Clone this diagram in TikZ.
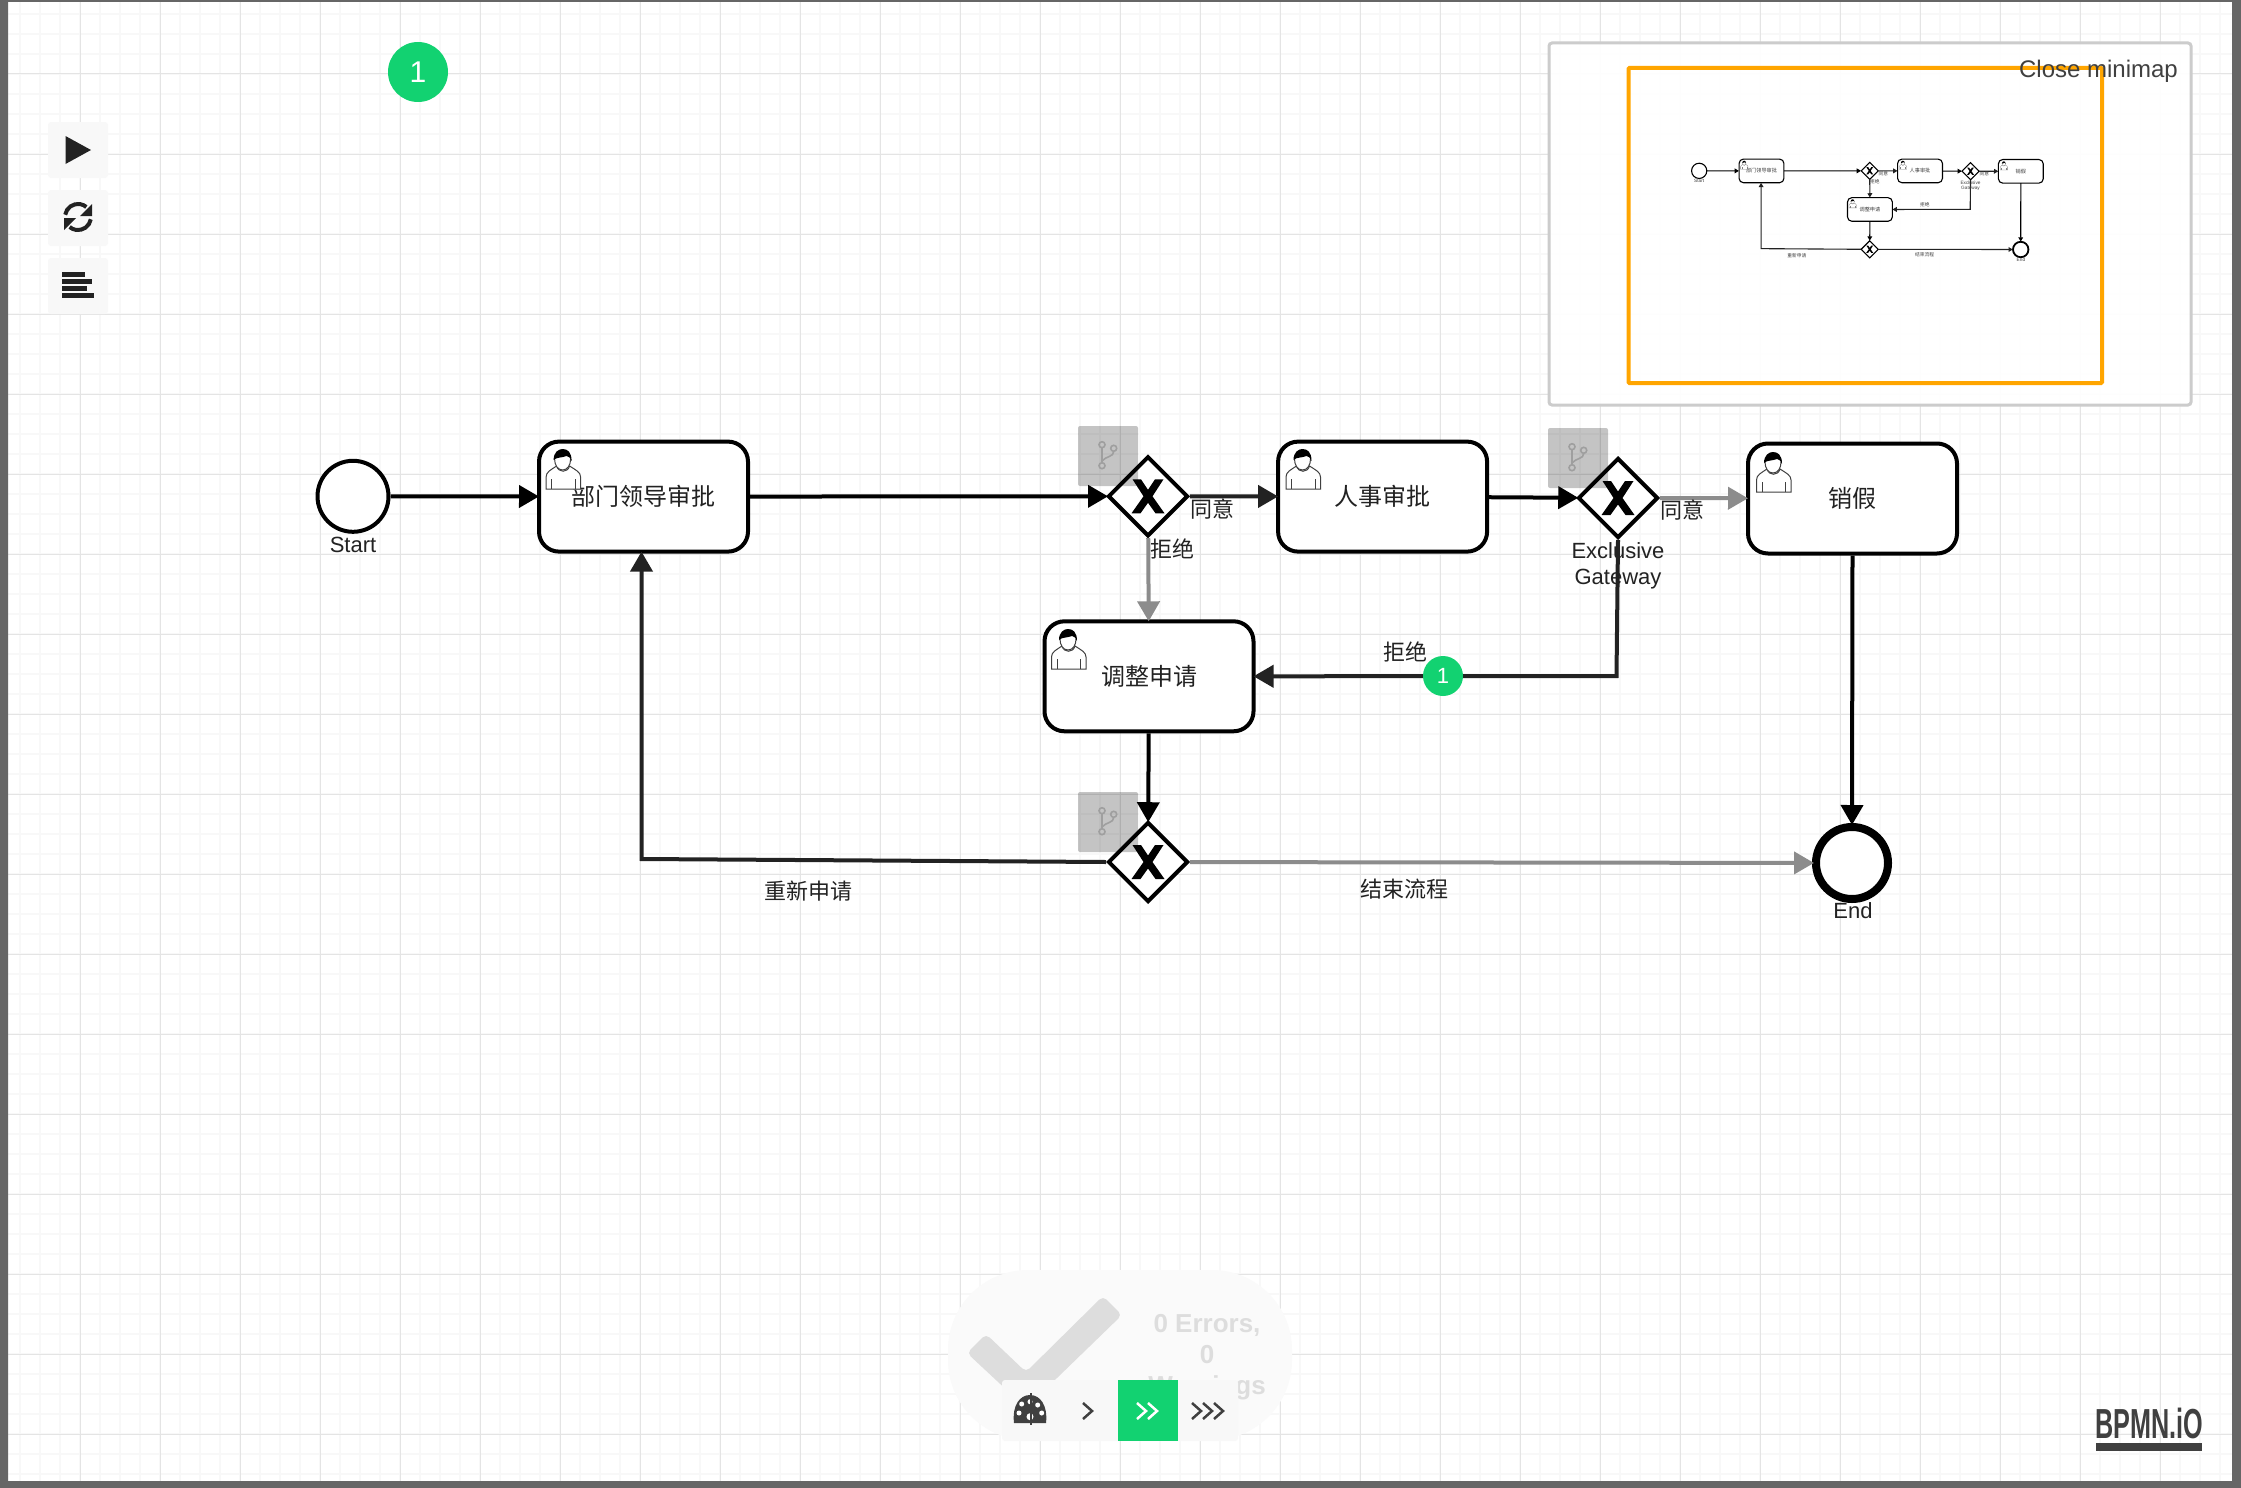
\documentclass[tikz,border=0pt]{standalone}
\usepackage{fontspec}
\setmainfont{Liberation Sans}
\newfontfamily\cjk{Noto Sans CJK SC}
\usetikzlibrary{arrows.meta,shapes.geometric}
\definecolor{tokengreen}{HTML}{12D271}
\definecolor{gridmajor}{HTML}{E4E4E4}
\definecolor{gridminor}{HTML}{F8F8F8}
\definecolor{framegray}{HTML}{666666}
\definecolor{panelgray}{HTML}{F8F8F8}
\definecolor{flowgray}{HTML}{8C8C8C}
\definecolor{flowdark}{HTML}{222222}
\definecolor{statusgray}{HTML}{DDDDDD}
\definecolor{icongray}{HTML}{404040}
\definecolor{viewbox}{HTML}{FFA500}
\newcommand{\fpx}[1]{\fontsize{#1}{#1}\selectfont}
\tikzset{
  x=1pt,y=-1pt,
  flowline/.style={line width=\flw,shorten >=\shr,-{Triangle[length=\arl,width=\arw]},draw=#1},
  flowline/.default=black,
  taskbox/.style={draw=black,fill=white,line width=\tlw,rounded corners=\rcr,minimum width=209pt,minimum height=110pt,inner sep=0pt,font=\cjk\fpx{24},text=\txtc,text height=20.5pt,text depth=3pt},
  gatewaybox/.style={diamond,draw=black,fill=white,line width=\tlw,minimum size=80pt,inner sep=0pt},
  startevent/.style={circle,draw=black,fill=white,line width=\tlw,minimum size=71pt,inner sep=0pt},
  endevent/.style={circle,draw=black,fill=white,line width=\elw,minimum size=72pt,inner sep=0pt},
  lbl/.style={font=\fpx{22},text=\txtc,inner sep=0pt,align=center},
  cjklbl/.style={font=\cjk\fpx{22},text=\txtc,inner sep=0pt},
  tokendot/.style={circle,fill=tokengreen,text=white,inner sep=0pt},
  toolbtn/.style={fill=panelgray,rounded corners=3pt},
  hintbox/.style={fill=black,fill opacity=.23,rounded corners=2pt},
  hinticon/.style={draw=gray!75,line width=1.6pt},
  chevron/.style={line width=2.5pt,draw=#1},
}
% user icon, top-left at (#1,#2)
\newcommand{\usericon}[2]{%
  \begin{scope}[shift={(#1,#2)}]
    \draw[draw=\iconc,line width=\ilw,fill=white] (.5,40) -- (.5,28) .. controls (.5,23) and (5,21) .. (11,17) .. controls (13,24) and (22,24) .. (24,17) .. controls (30,21) and (35,23) .. (35,28) -- (35,40) -- cycle;
    \draw[draw=\iconc,line width=\ilw] (6,30) -- (6,40) (29.5,30) -- (29.5,40);
    \draw[draw=\iconc,line width=\ilw,fill=white] (9,10) .. controls (9,16) and (12,21) .. (17,21) .. controls (22,21) and (25,16) .. (25,10);
    \fill[black] (8,11) .. controls (8,3) and (13,0) .. (17,0) .. controls (22,0) and (26,3) .. (26,12) .. controls (25,9) and (23,7) .. (21,7) .. controls (16,9) and (11,8) .. (8,11) -- cycle;
  \end{scope}}
% gateway cross centred at (#1,#2)
\newcommand{\xmark}[2]{%
  \begin{scope}[shift={(#1,#2)}]
    \fill[black] (-15.5,-17) -- (-7,-17) -- (0,-6.5) -- (7,-17) -- (15.5,-17) -- (4.5,0) -- (16.5,17) -- (7.5,17) -- (0,6.5) -- (-7.5,17) -- (-16.5,17) -- (-4.5,0) -- cycle;
  \end{scope}}
% hint box with branch icon, top-left at (#1,#2)
\newcommand{\hint}[2]{%
  \begin{scope}[shift={(#1,#2)}]
    \fill[hintbox] (0,0) rectangle (60,60);
    \draw[hinticon] (24,22) -- (24,36) (35.7,25.5) .. controls (35.7,31) and (28,30) .. (24,35);
    \draw[hinticon] (24,18.7) circle[radius=3pt] (35.7,22.3) circle[radius=3pt] (24,39.7) circle[radius=3pt];
  \end{scope}}
% the process; #1 = name prefix, #2 = colour of the pale flows
\newcommand{\process}[2]{%
  \node[startevent] (#1start) at (353,496.3) {};
  \node[taskbox] (#1task1) at (643.5,496.6) {部门领导审批};
  \node[gatewaybox] (#1gw1) at (1148,496.3) {};
  \node[taskbox] (#1task2) at (1382.6,496.6) {人事审批};
  \node[gatewaybox] (#1gw2) at (1618,498) {};
  \node[taskbox] (#1task3) at (1852.5,498.5) {销假};
  \node[taskbox] (#1task4) at (1149,676.3) {调整申请};
  \node[gatewaybox] (#1gw3) at (1148,862) {};
  \node[endevent] (#1end) at (1852,863) {};
  \coordinate (#1corner) at (641.5,859);
  \coordinate (#1cornerb) at (1616.5,676);
  \usericon{545.6}{449}
  \usericon{1285.5}{449}
  \usericon{1756}{452}
  \usericon{1051}{629}
  \xmark{1148}{496.3}
  \xmark{1618}{498}
  \xmark{1148}{862}
  \draw[flowline] (#1start) -- (#1task1);
  \draw[flowline] (#1task1) -- (#1gw1);
  \draw[flowline=flowdark] (#1gw1) -- (#1task2);
  \draw[flowline] (#1task2) -- (#1gw2);
  \draw[flowline=#2] (#1gw2) -- (#1task3);
  \draw[flowline=#2] (#1gw1) -- (#1task4);
  \draw[flowline=flowdark] (#1gw2.south) -- (#1cornerb) -- (#1task4.east);
  \draw[flowline] (#1task4) -- (#1gw3);
  \draw[flowline=flowdark] (#1gw3.west) -- (#1corner) -- (#1corner |- #1task1.south);
  \draw[flowline=#2] (#1gw3) -- (#1end);
  \draw[flowline] (#1task3.south) -- (#1end.north);
  \node[lbl] (#1lstart) at (353,545) {Start};
  \node[lbl] (#1lend) at (1853,911) {End};
  \node[lbl] (#1lgw) at (1618,565.5) {\baselineskip=26pt Exclusive\\[4pt]Gateway};
  \node[cjklbl] (#1l1) at (1212,509) {同意};
  \node[cjklbl] (#1l2) at (1172,549) {拒绝};
  \node[cjklbl] (#1l3) at (1682,510) {同意};
  \node[cjklbl] (#1l4) at (1405.5,652) {拒绝};
  \node[cjklbl] (#1l5) at (808,891) {重新申请};
  \node[cjklbl] (#1l6) at (1404,889) {结束流程};
}
\begin{document}
\begin{tikzpicture}
\useasboundingbox (0,0) rectangle (2241,1488);
\fill[white] (0,0) rectangle (2241,1488);
% background grid
\foreach \gx in {20,40,...,2240} \draw[gridminor,line width=1.6pt] (\gx,0) -- (\gx,1488);
\foreach \gy in {14,34,...,1474} \draw[gridminor,line width=1.6pt] (0,\gy) -- (2241,\gy);
\foreach \gx in {80,160,...,2240} \draw[gridmajor,line width=1pt] (\gx,0) -- (\gx,1488);
\foreach \gy in {74,154,...,1434} \draw[gridmajor,line width=1pt] (0,\gy) -- (2241,\gy);
% main process
\def\flw{4pt}\def\tlw{4pt}\def\elw{8pt}\def\ilw{1pt}\def\iconc{icongray}\def\txtc{flowdark}
\def\arl{20pt}\def\arw{22pt}\def\rcr{20pt}\def\shr{-2pt}
\process{}{flowgray}
\hint{1078}{426}
\hint{1548}{428}
\hint{1078}{792}
% token on the flow and free token
\node[tokendot,minimum size=40pt,font=\fpx{22}] (token2) at (1443,676) {1};
\node[tokendot,minimum size=60pt,font=\fpx{30}] (token1) at (418,72) {1};
% palette
\fill[toolbtn] (48,122) rectangle (108,178);
\fill[toolbtn] (48,190) rectangle (108,246);
\fill[toolbtn] (48,258) rectangle (108,314);
\fill[flowdark] (65.5,136) -- (91,150) -- (65.5,164) -- cycle;
\draw[flowdark,line width=4pt] (65.2,214.7) arc[start angle=170,end angle=50,radius=13pt];
\fill[flowdark] (92,204) -- (92,216) -- (80,216) -- cycle;
\draw[flowdark,line width=4pt] (90.8,219.3) arc[start angle=-10,end angle=-130,radius=13pt];
\fill[flowdark] (64,230) -- (64,218) -- (76,218) -- cycle;
\fill[flowdark] (62,272) rectangle (85,276.5);
\fill[flowdark] (62,279) rectangle (92,283.5);
\fill[flowdark] (62,286) rectangle (87,290.5);
\fill[flowdark] (62,293) rectangle (94,297.5);
% minimap
\draw[draw=black!20,line width=3pt,fill=white,fill opacity=.95,rounded corners=3pt] (1549,43) rectangle (2191,405);
\begin{scope}[shift={(1869.7,171)},scale=.2145,transform shape,shift={(-1148,-497)}]
  \def\flw{1.1pt}\def\tlw{1.1pt}\def\elw{1.8pt}\def\ilw{.3pt}\def\iconc{gray}\def\txtc{icongray}
  \def\arl{4.3pt}\def\arw{4.7pt}\def\rcr{4.3pt}\def\shr{0pt}
  \process{m}{flowdark}
\end{scope}
\draw[draw=viewbox,line width=4pt,rounded corners=1pt] (1628.5,68) rectangle (2102,383);
\node[font=\fpx{24},text=icongray,inner sep=0pt] (closemap) at (2098.5,71) {Close minimap};
% status indicator
\fill[fill=panelgray!70,rounded corners=80pt] (948,1270) rectangle (1292,1440);
\fill[statusgray,rounded corners=5pt] (986,1334) -- (1026,1372) -- (1103,1296) -- (1122,1315) -- (1026,1408) -- (967,1353) -- cycle;
\node[font=\bfseries\fpx{26},text=statusgray,inner sep=0pt,align=center] (status) at (1207,1357.5) {0 Errors,\\[5pt]0\\[5pt]Warnings};
% speed toolbar
\fill[toolbtn] (1002,1380) rectangle (1238,1441);
\fill[tokengreen] (1118,1380) rectangle (1178,1441);
\fill[icongray] (1014,1423) .. controls (1012,1405) and (1020,1395) .. (1030,1395) .. controls (1040,1395) and (1048,1405) .. (1046,1423) -- cycle;
\fill[white] (1021.7,1404) circle[radius=2.5pt] (1030,1401.7) circle[radius=2.5pt] (1037.7,1405) circle[radius=2.5pt] (1019,1413) circle[radius=2.5pt] (1041.7,1413) circle[radius=2.5pt] (1030,1416.7) circle[radius=3.5pt];
\draw[icongray,line width=1.6pt] (1031,1393) -- (1031,1425);
\draw[chevron=icongray] (1083,1403) -- (1092,1411) -- (1083,1419);
\draw[chevron=white] (1137,1403) -- (1146,1411) -- (1137,1419);
\draw[chevron=white] (1148,1403) -- (1157,1411) -- (1148,1419);
\draw[chevron=icongray] (1192,1403) -- (1201,1411) -- (1192,1419);
\draw[chevron=icongray] (1203,1403) -- (1212,1411) -- (1203,1419);
\draw[chevron=icongray] (1214,1403) -- (1223,1411) -- (1214,1419);
% logo
\node[font=\bfseries\fpx{42},text=icongray,inner sep=0pt,xscale=.6] (logo) at (2149,1423.5) {BPMN.iO};
\fill[icongray] (2096,1443) rectangle (2202,1451);
% frame
\fill[framegray,even odd rule] (0,0) rectangle (2241,1488) (8,2) rectangle (2232,1481);
\end{tikzpicture}
\end{document}
